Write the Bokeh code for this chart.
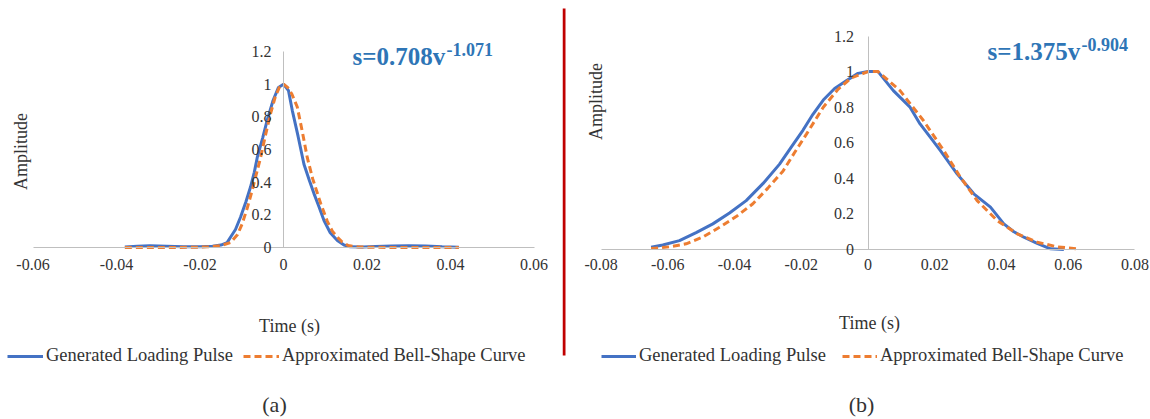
from math import pi
from bokeh.plotting import figure
from bokeh.models import (Range1d, FixedTicker, PrintfTickFormatter, Label, Legend,
                          LegendItem, BoxAnnotation)
from bokeh.layouts import row
from bokeh.embed import file_html
from bokeh.resources import INLINE

# ---------------- data ----------------
SERIES_NAMES = ["Generated Loading Pulse", "Approximated Bell-Shape Curve"]
PANEL_TAGS = ["(a)", "(b)"]
FORMULA_MAIN = ["s=0.708v", "s=1.375v"]
FORMULA_EXP = ["-1.071", "-0.904"]

Y_TICKS = [0, 0.2, 0.4, 0.6, 0.8, 1, 1.2]
X_TICKS_A = [-0.06, -0.04, -0.02, 0, 0.02, 0.04, 0.06]
X_TICKS_B = [-0.08, -0.06, -0.04, -0.02, 0, 0.02, 0.04, 0.06, 0.08]

# panel (a) - generated loading pulse
t_gen_a = [-0.038, -0.035, -0.032, -0.028, -0.024, -0.020, -0.017, -0.015, -0.0135, -0.0127,
           -0.0115, -0.0103, -0.009, -0.0079, -0.007, -0.0063, -0.005, -0.0039, -0.0025, -0.0012,
           0.0, 0.0012, 0.0021, 0.0035, 0.0049, 0.0062, 0.0073, 0.0085, 0.0097, 0.0112,
           0.0129, 0.0145, 0.016, 0.019, 0.022, 0.026, 0.030, 0.034, 0.038, 0.042]
amp_gen_a = [0.003, 0.008, 0.010, 0.008, 0.005, 0.005, 0.008, 0.015, 0.03, 0.063,
             0.11, 0.185, 0.28, 0.37, 0.46, 0.55, 0.67, 0.78, 0.9, 0.98,
             1.0, 0.96, 0.84, 0.68, 0.51, 0.41, 0.33, 0.25, 0.165, 0.09,
             0.043, 0.015, 0.004, 0.003, 0.006, 0.009, 0.011, 0.009, 0.005, 0.002]
# panel (a) - approximated bell-shape curve
t_bell_a = [-0.038, -0.030, -0.022, -0.018, -0.015, -0.0127, -0.011, -0.0099, -0.0087, -0.0075,
            -0.0065, -0.0055, -0.0043, -0.0031, -0.002, -0.001, 0.0, 0.001, 0.002, 0.0033,
            0.0045, 0.0057, 0.007, 0.0089, 0.0105, 0.0117, 0.0129, 0.014, 0.0155, 0.018,
            0.025, 0.035, 0.042]
amp_bell_a = [0.0, 0.0, 0.001, 0.004, 0.012, 0.03, 0.08, 0.145, 0.24, 0.35,
              0.45, 0.55, 0.69, 0.82, 0.92, 0.98, 1.0, 0.98, 0.94, 0.86,
              0.71, 0.55, 0.42, 0.27, 0.16, 0.1, 0.063, 0.035, 0.012, 0.003,
              0.0, 0.0, 0.0]

# panel (b) - generated loading pulse
t_gen_b = [-0.065, -0.0615, -0.0565, -0.0515, -0.0465, -0.0415, -0.0365, -0.0315, -0.0265, -0.023,
           -0.0195, -0.0165, -0.0134, -0.01, -0.0064, -0.003, 0.0, 0.003, 0.0076, 0.0126,
           0.0156, 0.0187, 0.0217, 0.0267, 0.0317, 0.0367, 0.0407, 0.0437, 0.0467, 0.0507,
           0.0547, 0.0587]
amp_gen_b = [0.013, 0.025, 0.05, 0.095, 0.144, 0.205, 0.275, 0.37, 0.48, 0.575,
             0.67, 0.76, 0.84, 0.905, 0.95, 0.99, 1.0, 1.0, 0.893, 0.80,
             0.706, 0.63, 0.556, 0.425, 0.313, 0.238, 0.144, 0.10, 0.069, 0.035,
             0.004, 0.0]
# panel (b) - approximated bell-shape curve
t_bell_b = [-0.065, -0.0595, -0.0545, -0.0495, -0.0445, -0.0395, -0.0345, -0.03, -0.0255, -0.022,
            -0.0184, -0.0134, -0.009, -0.005, 0.0, 0.003, 0.0096, 0.0166, 0.0227, 0.0277,
            0.0327, 0.0387, 0.0447, 0.0507, 0.0567, 0.0628]
amp_bell_b = [0.005, 0.015, 0.032, 0.07, 0.125, 0.185, 0.257, 0.345, 0.44, 0.545,
              0.65, 0.80, 0.90, 0.965, 1.0, 1.0, 0.893, 0.725, 0.556, 0.406,
              0.275, 0.163, 0.088, 0.041, 0.015, 0.004]

# ---------------- styling ----------------
BLUE = "#4472c4"
ORANGE = "#ed7d31"
AXIS_GRAY = "#bfbfbf"
TEXT = "#333333"
FORMULA_BLUE = "#2e75b6"
SERIF = "Liberation Serif"

PAGE_TOP, PAGE_BOTTOM = 0, 419


def make_panel(cfg):
    left, width = cfg["left"], cfg["width"]
    x0, kx, y0, ky = cfg["x0"], cfg["kx"], cfg["y0"], cfg["ky"]

    def tx(px):
        return (px - x0) / kx

    def ty(py):
        return (y0 - py) / ky

    p = figure(width=width, height=PAGE_BOTTOM - PAGE_TOP,
               x_range=Range1d(tx(left), tx(left + width)),
               y_range=Range1d(ty(PAGE_BOTTOM), ty(PAGE_TOP)),
               output_backend="svg", toolbar_location=None, min_border=0,
               outline_line_color=None, background_fill_color="white",
               border_fill_color="white")
    p.grid.visible = False

    xt = cfg["xticks"]
    for ax, ticks, bounds in ((p.xaxis[0], xt, (xt[0], xt[-1])),
                              (p.yaxis[0], Y_TICKS, (Y_TICKS[0], Y_TICKS[-1]))):
        ax.fixed_location = 0
        ax.bounds = bounds
        ax.ticker = FixedTicker(ticks=ticks, minor_ticks=[])
        ax.formatter = PrintfTickFormatter(format="%g")
        ax.axis_line_color = AXIS_GRAY
        ax.axis_line_width = 1
        ax.major_tick_line_color = None
        ax.major_tick_out = 0
        ax.major_tick_in = 0
        ax.minor_tick_line_color = None
        ax.major_label_text_font = SERIF
        ax.major_label_text_font_size = "16px"
        ax.major_label_text_color = TEXT
    p.xaxis[0].major_label_standoff = cfg["xstand"]
    p.yaxis[0].major_label_standoff = cfg["ystand"]

    r_gen = p.line(cfg["t_gen"], cfg["amp_gen"], line_color=BLUE, line_width=3)
    r_bell = p.line(cfg["t_bell"], cfg["amp_bell"], line_color=ORANGE, line_width=3,
                    line_dash="7 4")

    legend = Legend(items=[LegendItem(label=SERIES_NAMES[0], renderers=[r_gen]),
                           LegendItem(label=SERIES_NAMES[1], renderers=[r_bell])],
                    orientation="horizontal", location=(cfg["leg_x"], 53),
                    padding=0, margin=0, spacing=cfg["leg_spacing"], label_standoff=3,
                    glyph_width=cfg["glyph_w"], glyph_height=20,
                    label_text_font=SERIF, label_text_font_size="18.5px",
                    label_text_color=TEXT, border_line_color=None,
                    background_fill_alpha=0)
    p.add_layout(legend)

    def lab(px, py, text, size, **kw):
        opts = dict(x=tx(px), y=ty(py), text=text, text_font=SERIF,
                    text_font_size=size, text_color=TEXT,
                    text_align="center", text_baseline="middle")
        opts.update(kw)
        p.add_layout(Label(**opts))

    lab(cfg["amp_x"], cfg["amp_y"], "Amplitude", "18px", angle=pi / 2)
    lab(cfg["time_x"], cfg["time_y"], "Time (s)", "18px")
    lab(cfg["tag_x"], 404, cfg["tag"], "22px")
    lab(cfg["f_x"], cfg["f_y"], cfg["f_main"], "25px", text_align="left",
        text_font_style="bold", text_color=FORMULA_BLUE)
    lab(cfg["f_x"] + 94, cfg["f_y"] - 7, cfg["f_exp"], "18px", text_align="left",
        text_font_style="bold", text_color=FORMULA_BLUE)

    if cfg.get("divider"):
        p.add_layout(BoxAnnotation(left=tx(562), right=tx(565), top=ty(8), bottom=ty(355),
                                   fill_color="#c00000", fill_alpha=1, line_color=None))
    return p


pa = make_panel(dict(left=0, width=562, x0=283, kx=4175, y0=247, ky=163.33,
                     xticks=X_TICKS_A, xstand=11, ystand=12,
                     t_gen=t_gen_a, amp_gen=amp_gen_a, t_bell=t_bell_a, amp_bell=amp_bell_a,
                     leg_x=7, leg_spacing=10, glyph_w=36,
                     amp_x=20, amp_y=151, time_x=289, time_y=325, tag_x=274, tag=PANEL_TAGS[0],
                     f_x=352, f_y=56, f_main=FORMULA_MAIN[0], f_exp=FORMULA_EXP[0]))
pb = make_panel(dict(left=562, width=588, x0=867.5, kx=3337, y0=249, ky=177.9,
                     xticks=X_TICKS_B, xstand=9, ystand=14,
                     t_gen=t_gen_b, amp_gen=amp_gen_b, t_bell=t_bell_b, amp_bell=amp_bell_b,
                     leg_x=39, leg_spacing=16, glyph_w=35,
                     amp_x=595, amp_y=101, time_x=869, time_y=322, tag_x=861, tag=PANEL_TAGS[1],
                     f_x=987, f_y=51, f_main=FORMULA_MAIN[1], f_exp=FORMULA_EXP[1],
                     divider=True))

layout = row(pa, pb)
open("out.html", "w").write(file_html(layout, INLINE))
